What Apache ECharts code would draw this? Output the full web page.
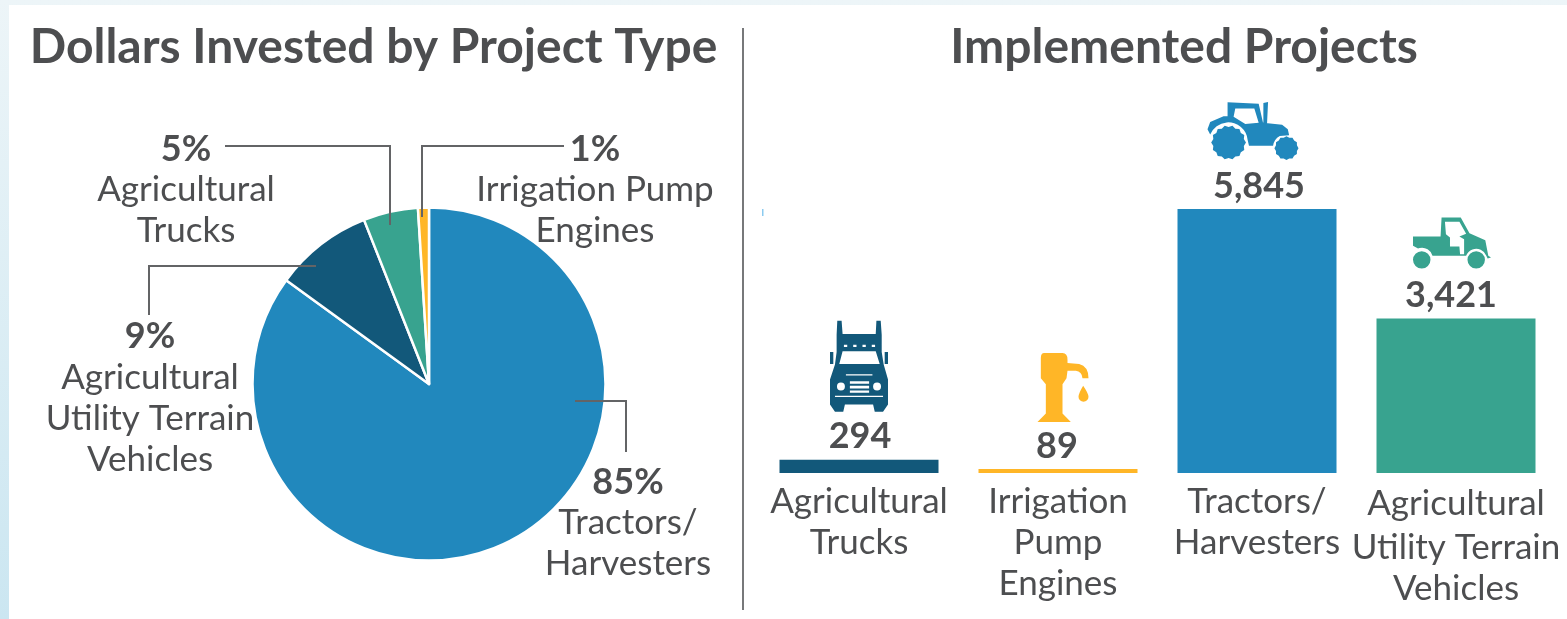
<!DOCTYPE html>
<html>
<head>
<meta charset="utf-8">
<script src="https://cdn.jsdelivr.net/npm/echarts@6/dist/echarts.min.js"></script>
<style>
  html, body { margin: 0; height: 100%; background: linear-gradient(180deg, #edf5f8, #cbe6f1); }
  #chart { width: 1567px; height: 619px; }
</style>
</head>
<body>
<div id="chart"></div>
<script>
// pie data
const pieNames = ['Tractors/\nHarvesters', 'Agricultural\nUtility Terrain\nVehicles', 'Agricultural\nTrucks', 'Irrigation Pump\nEngines']
const piePercents = [85, 9, 5, 1]
const pieColors = ['#2188bd', '#12587a', '#38a38f', '#ffb627']

// bar data
const barNames = ['Agricultural\nTrucks', 'Irrigation\nPump\nEngines', 'Tractors/\nHarvesters', 'Agricultural\nUtility Terrain\nVehicles']
const barValues = [294, 89, 5845, 3421]
const barColors = ['#12587a', '#ffb627', '#2188bd', '#38a38f']

const textColor = '#4d4e50'
const fontName = 'Lato'

// gear shaped wheel for the tractor icon
function gear(cx, cy, r, teeth) {
    let d = ''
    for (let i = 0; i < teeth * 2; i++) {
        const a = Math.PI * i / teeth
        const rr = i % 2 ? r * 0.9 : r
        d += (i ? 'L' : 'M') + (cx + rr * Math.cos(a)).toFixed(1) + ' ' + (cy + rr * Math.sin(a)).toFixed(1) + ' '
    }
    return d + 'Z '
}
function circle(cx, cy, r) {
    return `M${cx - r} ${cy} A${r} ${r} 0 1 1 ${cx + r} ${cy} A${r} ${r} 0 1 1 ${cx - r} ${cy} Z `
}
function hole(cx, cy, r) {
    return `M${cx - r} ${cy} A${r} ${r} 0 1 0 ${cx + r} ${cy} A${r} ${r} 0 1 0 ${cx - r} ${cy} Z `
}

const tractorIcon = 'path://M112 36 L205 40 L218 98 L275 104 L292 118 L296 136 L268 138 A40 40 0 0 0 248 168 L176 168 L172 150 A58 58 0 0 0 60 134 L52 118 L60 96 L100 78 L112 78 Z ' +
    'M135 55 L130 80 L165 102 L205 98 L192 55 Z ' +
    'M219 38 L233 35 L230 100 L219 100 Z ' +
    gear(115, 158, 52, 14) + gear(288, 175, 36, 12)

const truckIcon = 'path://M52 18 L65 18 L68 58 L168 58 L170 18 L183 18 L186 60 L186 112 L192 150 L205 195 L205 270 L190 292 L165 292 L160 270 L75 270 L70 292 L45 292 L30 270 L30 195 L45 150 L50 112 L50 60 Z ' +
    'M68 110 L58 148 L180 148 L168 110 Z ' +
    'M72 90 L72 97 L82 97 L82 90 Z M100 90 L100 97 L110 97 L110 90 Z M128 90 L128 97 L138 97 L138 90 Z M156 90 L156 97 L166 97 L166 90 Z ' +
    'M78 179 L78 183 L158 183 L158 179 Z M45 244 L45 248 L190 248 L190 244 Z ' +
    'M90 200 L90 208 L148 208 L148 200 Z M90 214 L90 222 L148 222 L148 214 Z M90 228 L90 235 L148 235 L148 228 Z ' +
    hole(63, 216, 12) + hole(172, 216, 12) +
    'M30 112 L40 112 L40 148 L30 148 Z M195 112 L205 112 L205 148 L195 148 Z'

const pumpIcon = 'path://M45 25 L100 25 Q115 25 115 45 L115 55 L150 58 Q178 65 178 100 L160 100 Q158 80 140 78 L115 78 L112 100 L100 118 L100 205 L125 230 L25 230 L50 205 L50 118 L35 100 L35 40 Q35 25 45 25 Z ' +
    'M162 122 Q178 145 178 155 A15 15 0 0 1 148 155 Q148 145 162 122 Z'

const utvIcon = 'path://M125 35 L182 35 L208 82 L255 103 L264 150 L272 155 L262 158 L258 150 A32 32 0 0 0 198 150 L98 150 A32 32 0 0 0 55 128 L40 120 L40 92 L122 92 Z ' +
    'M135 48 L138 85 L150 95 L150 122 L178 122 L180 145 L192 145 L192 100 L178 92 L198 84 L178 48 Z ' +
    circle(66, 162, 26) + circle(228, 162, 26)

const barIcons = [truckIcon, pumpIcon, tractorIcon, utvIcon]
// icon width, height in px
const iconSizes = [[58, 91], [51, 69], [91, 58], [78, 51]]
// x shift from bar center, y from bar top to the icon's top edge
const iconOffsets = [[0, -139], [5, -116], [-4, -107], [-4, -101]]
const valueLabelShift = [[1, 0], [-1, 0], [2, 0], [-5, 0]]

// where each pie label block sits: [center x, center y]
const pieLabelSpots = [[628, 523], [150, 398], [186, 190], [595, 190]]

const leaderLines = [
    [[225, 146], [390, 146], [390, 225]],
    [[564, 146], [422, 146], [422, 217]],
    [[316, 266], [149, 266], [149, 315]],
    [[575, 401], [626, 401], [626, 452]]
]

const chart = echarts.init(document.getElementById('chart'))

const option = {
    backgroundColor: 'transparent',
    animation: false,
    title: [
        {
            text: 'Dollars Invested by Project Type', left: 368.5, top: 19, textAlign: 'center',
            textStyle: { fontFamily: fontName, fontSize: 48, fontWeight: 700, color: textColor }
        },
        {
            text: 'Implemented Projects', left: 1179, top: 19, textAlign: 'center',
            textStyle: { fontFamily: fontName, fontSize: 48, fontWeight: 700, color: textColor }
        }
    ],
    grid: { left: 759.5, width: 796, top: 209, height: 264 },
    xAxis: {
        type: 'category',
        data: barNames,
        axisLine: { show: false },
        axisTick: { show: false },
        axisLabel: {
            interval: 0,
            margin: 8,
            // last label sits a little lower than the others
            formatter: (v, i) => v.split('\n').map((s, k) => `{${i === 3 && k === 0 ? 'low' : 'n'}|${s}}`).join('\n'),
            rich: {
                n: { fontFamily: fontName, fontSize: 35, lineHeight: 41, color: textColor },
                low: { fontFamily: fontName, fontSize: 35, lineHeight: 46, color: textColor }
            }
        }
    },
    yAxis: { type: 'value', min: 0, max: 5845, show: false },
    series: [
        {
            type: 'pie',
            center: [429, 384],
            radius: [0, 176.5],
            startAngle: 90,
            clockwise: true,
            avoidLabelOverlap: false,
            z: 3,
            itemStyle: { borderColor: '#fff', borderWidth: 2.5 },
            data: piePercents.map((v, i) => ({
                value: v,
                name: pieNames[i],
                itemStyle: { color: pieColors[i] }
            })),
            label: {
                formatter: p => `{p|${p.value}%}\n` + p.name.split('\n').map(s => `{n|${s}}`).join('\n'),
                rich: {
                    p: { fontFamily: fontName, fontSize: 36, fontWeight: 700, lineHeight: 41, color: textColor },
                    n: { fontFamily: fontName, fontSize: 35, lineHeight: 41, color: textColor }
                }
            },
            labelLine: { show: false },
            labelLayout: p => ({
                x: pieLabelSpots[p.dataIndex][0],
                y: pieLabelSpots[p.dataIndex][1],
                align: 'center',
                verticalAlign: 'middle'
            })
        },
        {
            type: 'bar',
            barWidth: 159,
            data: barValues.map((v, i) => ({
                value: v,
                itemStyle: { color: barColors[i] },
                label: { offset: valueLabelShift[i] }
            })),
            label: {
                show: true,
                position: 'top',
                distance: 5,
                formatter: p => p.value.toLocaleString('en-US'),
                fontFamily: fontName,
                fontSize: 36,
                fontWeight: 700,
                color: textColor
            }
        },
        {
            type: 'pictorialBar',
            symbolPosition: 'end',
            data: barValues.map((v, i) => ({
                value: v,
                symbol: barIcons[i],
                symbolSize: iconSizes[i],
                symbolOffset: iconOffsets[i],
                itemStyle: { color: barColors[i] }
            }))
        }
    ],
    graphic: [
        // white card over the page background
        { type: 'rect', z: -10, shape: { x: 9, y: 5, width: 1558, height: 614 }, style: { fill: '#fff' } },
        // divider
        { type: 'line', z: 1, shape: { x1: 743, y1: 28, x2: 743, y2: 610 }, style: { stroke: '#77787a', lineWidth: 2 } },
        // stray speck in the source image
        { type: 'rect', z: 1, shape: { x: 762, y: 209, width: 1.5, height: 7 }, style: { fill: '#8ccbf0' } }
    ].concat(leaderLines.map(pts => ({
        type: 'polyline',
        z: 20,
        shape: { points: pts },
        style: { stroke: '#636466', lineWidth: 2, fill: null }
    })))
}

chart.setOption(option)
window.addEventListener('resize', () => chart.resize())
</script>
</body>
</html>
